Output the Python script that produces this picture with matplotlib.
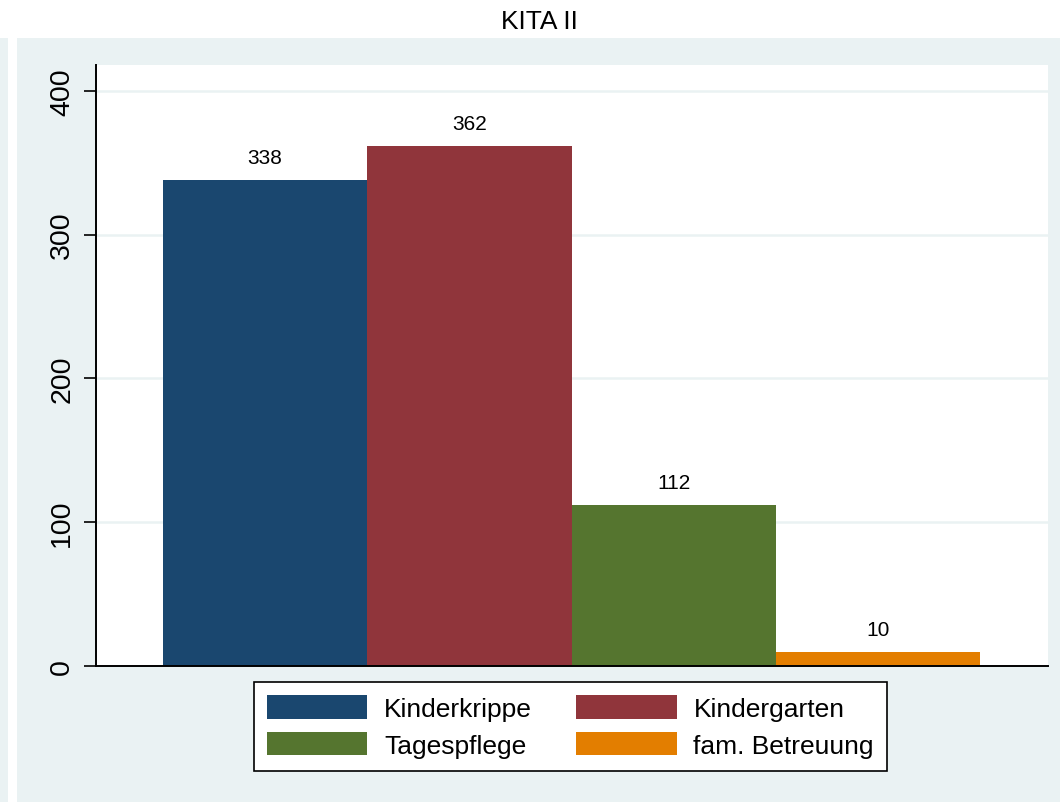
import matplotlib
matplotlib.use('Agg')
import matplotlib.pyplot as plt
from matplotlib.patches import Rectangle

plt.rcParams['font.family'] = ['Liberation Sans', 'DejaVu Sans']

# Daten
titel = 'KITA II'
kategorien = ['Kinderkrippe', 'Kindergarten', 'Tagespflege', 'fam. Betreuung']
werte = [338, 362, 112, 10]
farben = ['#1a476f', '#90353b', '#55752f', '#e37e00']
yticks = [0, 100, 200, 300, 400]

bg = '#eaf2f3'

fig = plt.figure(figsize=(10.6, 8.03), dpi=100)
fig.patch.set_facecolor('white')

# Hintergrundflaechen (Stata-Stil)
fig.patches.append(Rectangle((17 / 1060, 0), 1 - 17 / 1060, 1 - 39 / 803,
                             transform=fig.transFigure, facecolor=bg,
                             edgecolor='none', zorder=-5))
fig.patches.append(Rectangle((0, 0), 8 / 1060, 1 - 39 / 803,
                             transform=fig.transFigure, facecolor=bg,
                             edgecolor='none', zorder=-5))

ax = fig.add_axes([96 / 1060, 1 - 667 / 803, 952 / 1060, 601 / 803])
ax.set_zorder(2)
ax.set_facecolor('white')

balken = []
for i, (k, w, c) in enumerate(zip(kategorien, werte, farben)):
    b = ax.bar(i, w, width=1.0, color=c, label=k, zorder=3)
    balken.append(b)
    ax.text(i, w + 9, str(w), ha='center', va='bottom', fontsize=15)

ax.set_xlim(-0.828, 3.8325)
ax.set_ylim(0, 418)
ax.set_yticks(yticks)
ax.set_yticklabels([str(t) for t in yticks], rotation=90, va='center',
                   fontsize=20.5)
ax.tick_params(axis='y', length=9, width=1.2, pad=6)
ax.set_xticks([])
ax.grid(axis='y', color=bg, linewidth=1.8, zorder=1)

for s in ['top', 'right']:
    ax.spines[s].set_visible(False)
for s in ['left', 'bottom']:
    ax.spines[s].set_linewidth(1.4)
    ax.spines[s].set_zorder(4)

fig.text(539 / 1060, 1 - 22 / 803, titel, ha='center', va='center',
         fontsize=19)

# Legende zeilenweise anordnen
reihenfolge = [0, 2, 1, 3]
leg = fig.legend([balken[i] for i in reihenfolge],
                 [kategorien[i] for i in reihenfolge],
                 loc='center', bbox_to_anchor=(570.5 / 1060, 1 - 727.5 / 803),
                 ncol=2, fontsize=19, frameon=True, fancybox=False,
                 framealpha=1, facecolor='white',
                 handlelength=3.8, handleheight=1.0, handletextpad=0.64,
                 columnspacing=1.67, labelspacing=0.4, borderpad=0.5,
                 borderaxespad=0)
leg.get_frame().set_edgecolor('black')
leg.get_frame().set_linewidth(1.2)

plt.savefig('out.png', dpi=100, facecolor=fig.get_facecolor())
